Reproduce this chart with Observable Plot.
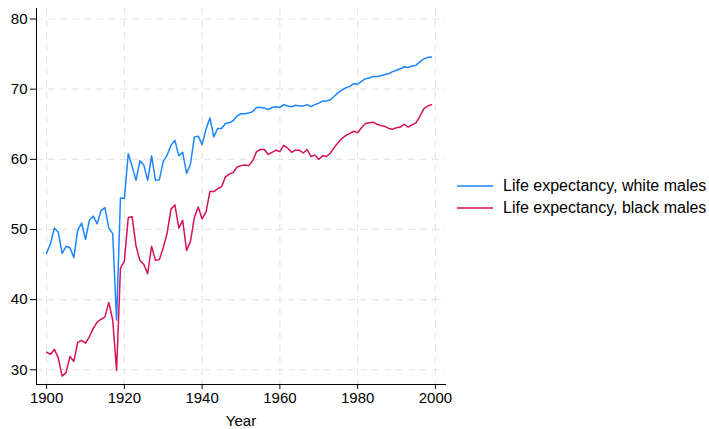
<!DOCTYPE html>
<html>
<head>
<meta charset="utf-8">
<script src="https://cdn.jsdelivr.net/npm/d3@7"></script>
<script src="https://cdn.jsdelivr.net/npm/@observablehq/plot@0.6"></script>
<style>
  html, body { margin: 0; padding: 0; background: #fff; }
  #wrap { position: relative; width: 709px; height: 429px; font-family: "Liberation Sans", Arial, sans-serif; }
  #legend { position: absolute; left: 457px; top: 175px; font-size: 16px; color: #000; }
  .row { display: flex; align-items: center; height: 22px; }
  .row svg { margin-right: 10px; }
</style>
</head>
<body>
<div id="wrap">
  <div id="chart"></div>
  <div id="legend"></div>
</div>
<script>
const startYear = 1900;
const whiteMales = [
  46.6, 48.0, 50.2, 49.6, 46.6, 47.6, 47.4, 46.0, 49.9, 50.9,
  48.6, 51.3, 51.9, 50.8, 52.7, 53.1, 50.2, 49.4, 37.1, 54.5,
  54.4, 60.8, 59.0, 57.0, 59.8, 59.2, 57.0, 60.5, 57.0, 57.1,
  59.7, 60.6, 62.0, 62.7, 60.5, 61.0, 58.0, 59.3, 63.2, 63.3,
  62.1, 64.3, 65.9, 63.2, 64.4, 64.4, 65.1, 65.2, 65.5, 66.2,
  66.5, 66.5, 66.6, 66.8, 67.4, 67.4, 67.3, 67.1, 67.4, 67.5,
  67.4, 67.8, 67.6, 67.5, 67.7, 67.6, 67.6, 67.8, 67.5, 67.8,
  68.0, 68.3, 68.3, 68.5, 69.0, 69.5, 69.9, 70.2, 70.4, 70.8,
  70.7, 71.1, 71.5, 71.6, 71.8, 71.8, 71.9, 72.1, 72.2, 72.5,
  72.7, 72.9, 73.2, 73.1, 73.3, 73.4, 73.9, 74.3, 74.5, 74.6
];
const blackMales = [
  32.5, 32.2, 32.9, 31.7, 29.1, 29.6, 31.9, 31.2, 33.9, 34.2,
  33.8, 34.7, 35.9, 36.8, 37.2, 37.5, 39.6, 37.1, 29.9, 44.5,
  45.5, 51.7, 51.8, 47.6, 45.6, 45.0, 43.7, 47.6, 45.6, 45.7,
  47.4, 49.5, 52.9, 53.5, 50.2, 51.3, 47.0, 48.3, 51.7, 53.2,
  51.5, 52.5, 55.4, 55.4, 55.8, 56.1, 57.5, 57.9, 58.1, 58.9,
  59.1, 59.2, 59.1, 59.8, 61.1, 61.4, 61.4, 60.7, 61.0, 61.3,
  61.1, 62.0, 61.6, 61.0, 61.3, 61.3, 60.9, 61.4, 60.4, 60.6,
  60.0, 60.5, 60.4, 60.9, 61.7, 62.4, 63.0, 63.4, 63.7, 64.0,
  63.8, 64.5, 65.1, 65.2, 65.3, 65.0, 64.8, 64.7, 64.4, 64.3,
  64.5, 64.6, 65.0, 64.6, 64.9, 65.2, 66.1, 67.2, 67.6, 67.8
];
const seriesNames = ["Life expectancy, white males", "Life expectancy, black males"];
const seriesColors = ["#1a85ff", "#d41159"];
const xTicks = [1900, 1920, 1940, 1960, 1980, 2000];
const yTicks = [30, 40, 50, 60, 70, 80];

const rows = [];
[whiteMales, blackMales].forEach((arr, si) => {
  arr.forEach((v, i) => rows.push({year: startYear + i, value: v, series: seriesNames[si]}));
});

const chart = Plot.plot({
  width: 460,
  height: 429,
  marginLeft: 36,
  marginRight: 15,
  marginTop: 8,
  marginBottom: 45,
  style: {fontFamily: "'Liberation Sans', Arial, sans-serif", fontSize: "15px", color: "#000", background: "#fff"},
  x: {domain: [1897.4, 2002.6], ticks: xTicks, tickFormat: "d", label: "Year", labelAnchor: "center", labelArrow: "none"},
  y: {domain: [27.9, 81.5], ticks: yTicks, label: null},
  color: {domain: seriesNames, range: seriesColors},
  marks: [
    Plot.gridX(xTicks, {stroke: "#e6e6e6", strokeOpacity: 1, strokeDasharray: "7,5", strokeWidth: 1.2}),
    Plot.gridY(yTicks, {stroke: "#e6e6e6", strokeOpacity: 1, strokeDasharray: "7,5", strokeWidth: 1.2}),
    Plot.axisX(xTicks, {tickSize: 5, tickPadding: 3, tickFormat: "d", fontSize: 15, label: "Year", labelAnchor: "center", labelOffset: 41, labelArrow: "none"}),
    Plot.axisY(yTicks, {tickSize: 6, tickPadding: 3, fontSize: 15, label: null}),
    Plot.frame({anchor: "left", stroke: "#000"}),
    Plot.frame({anchor: "bottom", stroke: "#000"}),
    Plot.line(rows, {x: "year", y: "value", z: "series", stroke: "series", strokeWidth: 1.5})
  ]
});
document.getElementById("chart").appendChild(chart);

const legend = document.getElementById("legend");
seriesNames.forEach((name, i) => {
  const row = document.createElement("div");
  row.className = "row";
  row.innerHTML = `<svg width="36" height="4"><line x1="0" x2="36" y1="2" y2="2" stroke="${seriesColors[i]}" stroke-width="1.5"/></svg><span>${name}</span>`;
  legend.appendChild(row);
});
</script>
</body>
</html>
